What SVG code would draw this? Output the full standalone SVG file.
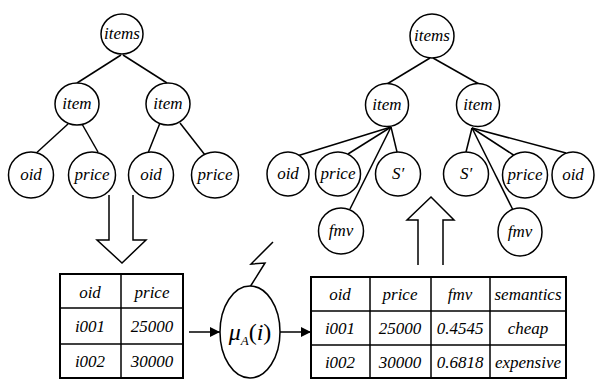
<svg xmlns="http://www.w3.org/2000/svg" width="595" height="379" viewBox="0 0 595 379">
<defs>
<style>
.n{fill:#fff;stroke:#000;stroke-width:1.5}
.t{font-style:italic;font-size:17px;text-anchor:middle;fill:#000}
.c line,.c polyline{stroke:#000;stroke-width:1.5;fill:none}
.tb{fill:none;stroke:#000;stroke-width:2}
.tl{stroke:#000;stroke-width:1.5}
.ha{fill:#fff;stroke:#000;stroke-width:1.5;stroke-linejoin:miter}
</style>
<marker id="ah" viewBox="0 0 10 10" refX="10" refY="5" markerWidth="10" markerHeight="10" markerUnits="userSpaceOnUse" orient="auto">
<path d="M0,0 L10,5 L0,10 Z" fill="#000"/>
</marker>
</defs>
<rect width="595" height="379" fill="#fff"/>

<g id="connectors" class="c">
<line x1="121" y1="55" x2="77" y2="83"/>
<line x1="123" y1="55" x2="167" y2="83"/>
<line x1="68" y1="124" x2="33" y2="156"/>
<line x1="82" y1="124" x2="98" y2="152"/>
<line x1="160" y1="123" x2="148" y2="153"/>
<line x1="180" y1="123" x2="205" y2="155"/>
<line x1="430" y1="58" x2="387" y2="84"/>
<line x1="433" y1="58" x2="479" y2="84"/>
<line x1="391" y1="127" x2="297" y2="156"/>
<line x1="391" y1="127" x2="348" y2="154"/>
<line x1="391" y1="127" x2="397" y2="152"/>
<line x1="391" y1="127" x2="350" y2="209"/>
<line x1="472" y1="128" x2="466" y2="152"/>
<line x1="472" y1="128" x2="513" y2="210"/>
<line x1="472" y1="128" x2="515" y2="156"/>
<line x1="472" y1="128" x2="566" y2="153"/>
<polyline points="273,242 251,264 265,263 250,287"/>
<line x1="189" y1="332" x2="220" y2="332" marker-end="url(#ah)"/>
<line x1="280" y1="332" x2="311" y2="332" marker-end="url(#ah)"/>
<polyline class="ha" points="109,195 109,240 97,240 122,263 146,240 133,240 133,195"/>
<polyline class="ha" points="418,265 418,220 407,220 431,197 454,220 443,220 443,265"/>
</g>

<g font-family="'Liberation Serif', 'Times New Roman', Tinos, 'DejaVu Serif', 'Noto Serif', 'Nimbus Roman', FreeSerif, Times, serif">
<g id="l-items"><ellipse class="n" cx="122" cy="34" rx="21" ry="20"/><text class="t" x="122" y="39">items</text></g>
<g id="l-item1"><ellipse class="n" cx="77" cy="104" rx="22" ry="21"/><text class="t" x="77" y="109">item</text></g>
<g id="l-item2"><ellipse class="n" cx="168" cy="104" rx="22" ry="21"/><text class="t" x="168" y="109">item</text></g>
<g id="l-oid1"><ellipse class="n" cx="31" cy="175" rx="22.5" ry="23"/><text class="t" x="31" y="180">oid</text></g>
<g id="l-price1"><ellipse class="n" cx="92" cy="175" rx="23.5" ry="23"/><text class="t" x="92" y="180">price</text></g>
<g id="l-oid2"><ellipse class="n" cx="151" cy="175" rx="22.5" ry="23"/><text class="t" x="151" y="180">oid</text></g>
<g id="l-price2"><ellipse class="n" cx="215" cy="175" rx="23.5" ry="23"/><text class="t" x="215" y="180">price</text></g>

<g id="r-items"><ellipse class="n" cx="432" cy="36" rx="22" ry="22"/><text class="t" x="432" y="41">items</text></g>
<g id="r-item1"><ellipse class="n" cx="387" cy="105" rx="21.5" ry="21.5"/><text class="t" x="387" y="110">item</text></g>
<g id="r-item2"><ellipse class="n" cx="478" cy="105" rx="21.5" ry="21.5"/><text class="t" x="478" y="110">item</text></g>
<g id="r-oid1"><ellipse class="n" cx="288" cy="174" rx="21" ry="22"/><text class="t" x="288" y="179">oid</text></g>
<g id="r-price1"><ellipse class="n" cx="338" cy="174" rx="22.5" ry="22"/><text class="t" x="338" y="179">price</text></g>
<g id="r-s1"><ellipse class="n" cx="398" cy="174" rx="22.5" ry="22"/><text class="t" x="398" y="179">S′</text></g>
<g id="r-fmv1"><ellipse class="n" cx="341" cy="231" rx="22.5" ry="23"/><text class="t" x="341" y="236">fmv</text></g>
<g id="r-s2"><ellipse class="n" cx="466" cy="174" rx="22.5" ry="22"/><text class="t" x="466" y="179">S′</text></g>
<g id="r-price2"><ellipse class="n" cx="525" cy="175" rx="22.5" ry="23"/><text class="t" x="525" y="180">price</text></g>
<g id="r-oid2"><ellipse class="n" cx="573" cy="175" rx="21" ry="23"/><text class="t" x="573" y="180">oid</text></g>
<g id="r-fmv2"><ellipse class="n" cx="520" cy="232" rx="22" ry="24"/><text class="t" x="520" y="237">fmv</text></g>

<g id="table1">
<rect class="tb" x="60" y="274" width="123" height="104"/>
<line class="tl" x1="121" y1="274" x2="121" y2="378"/>
<line class="tl" x1="60" y1="308" x2="183" y2="308"/>
<line class="tl" x1="60" y1="344" x2="183" y2="344"/>
<text class="t" x="90" y="298">oid</text>
<text class="t" x="152" y="298">price</text>
<text class="t" x="90" y="332">i001</text>
<text class="t" x="152" y="332">25000</text>
<text class="t" x="90" y="367">i002</text>
<text class="t" x="152" y="367">30000</text>
</g>

<g id="mu">
<ellipse class="n" cx="250" cy="332" rx="30" ry="46"/>
<text x="250" y="340" font-size="24" text-anchor="middle"><tspan font-style="italic">μ</tspan><tspan font-style="italic" font-size="13" dy="5">A</tspan><tspan dy="-5">(</tspan><tspan font-style="italic">i</tspan><tspan>)</tspan></text>
</g>

<g id="table2">
<rect class="tb" x="311" y="277" width="255" height="101"/>
<line class="tl" x1="370" y1="277" x2="370" y2="378"/>
<line class="tl" x1="431" y1="277" x2="431" y2="378"/>
<line class="tl" x1="490" y1="277" x2="490" y2="378"/>
<line class="tl" x1="311" y1="311" x2="566" y2="311"/>
<line class="tl" x1="311" y1="345" x2="566" y2="345"/>
<text class="t" x="340" y="300">oid</text>
<text class="t" x="400" y="300">price</text>
<text class="t" x="460" y="300">fmv</text>
<text class="t" x="528" y="300">semantics</text>
<text class="t" x="340" y="334">i001</text>
<text class="t" x="400" y="334">25000</text>
<text class="t" x="460" y="334">0.4545</text>
<text class="t" x="528" y="334">cheap</text>
<text class="t" x="340" y="368">i002</text>
<text class="t" x="400" y="368">30000</text>
<text class="t" x="460" y="368">0.6818</text>
<text class="t" x="528" y="368">expensive</text>
</g>
</g>
</svg>
